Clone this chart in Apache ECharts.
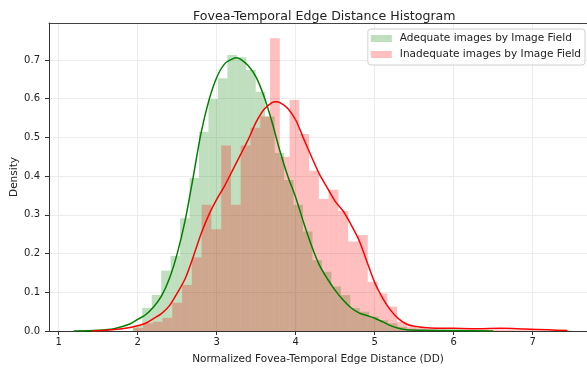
<!DOCTYPE html>
<html>
<head>
<meta charset="utf-8">
<script src="https://cdn.jsdelivr.net/npm/echarts@6/dist/echarts.min.js"></script>
<style>
  html, body { margin: 0; padding: 0; background: #fff; }
  #chart { width: 587px; height: 369px; }
</style>
</head>
<body>
<div id="chart"></div>
<script>
// Histogram bins: left edge of the first bin and bin width (DD), then density per bin
const adequateBinStart = 1.938
const adequateBinWidth = 0.1197
const adequateDensity = [
  0.015, 0.06, 0.093, 0.156, 0.194, 0.291, 0.395, 0.515, 0.599, 0.653,
  0.713, 0.707, 0.674, 0.618, 0.554, 0.46, 0.39, 0.326, 0.257, 0.183,
  0.153, 0.115, 0.093, 0.059, 0.05, 0.037, 0.028, 0.02, 0.011, 0.006,
  0.004, 0.002, 0.002, 0.001, 0.001, 0.001, 0, 0.001
]

const inadequateBinStart = 1.943
const inadequateBinWidth = 0.1237
const inadequateDensity = [
  0.008, 0.02, 0.024, 0.034, 0.073, 0.119, 0.19, 0.326, 0.263, 0.479,
  0.326, 0.479, 0.525, 0.554, 0.756, 0.45, 0.597, 0.509, 0.414, 0.341,
  0.365, 0.31, 0.231, 0.248, 0.127, 0.097, 0.063, 0.024, 0.011, 0.008,
  0.005, 0.004, 0.003, 0.002, 0.003, 0.002, 0.003, 0.004, 0.003, 0.002,
  0.002, 0.001, 0.001, 0.001, 0.001
]

// KDE curves
const adequateKdeX = [1.19, 1.5, 1.7, 1.9, 2.0, 2.1, 2.2, 2.3, 2.4, 2.5, 2.6, 2.7, 2.8, 2.9, 3.0, 3.1, 3.2, 3.25, 3.3, 3.4, 3.5, 3.6, 3.7, 3.8, 3.9, 4.0, 4.1, 4.2, 4.3, 4.4, 4.5, 4.6, 4.7, 4.8, 4.9, 5.0, 5.1, 5.2, 5.3, 5.4, 5.6, 6.0, 6.5]
const adequateKdeY = [0.0, 0.002, 0.006, 0.018, 0.03, 0.042, 0.062, 0.09, 0.135, 0.2, 0.285, 0.395, 0.51, 0.595, 0.655, 0.69, 0.703, 0.706, 0.702, 0.685, 0.655, 0.605, 0.54, 0.465, 0.4, 0.345, 0.28, 0.22, 0.17, 0.135, 0.105, 0.08, 0.06, 0.047, 0.04, 0.033, 0.024, 0.014, 0.007, 0.003, 0.002, 0.001, 0.0]

const inadequateKdeX = [1.42, 1.6, 1.8, 1.95, 2.1, 2.2, 2.3, 2.4, 2.5, 2.6, 2.7, 2.8, 2.9, 3.0, 3.1, 3.2, 3.3, 3.4, 3.5, 3.6, 3.7, 3.75, 3.8, 3.9, 4.0, 4.1, 4.2, 4.3, 4.4, 4.5, 4.6, 4.7, 4.8, 4.9, 5.0, 5.1, 5.2, 5.3, 5.4, 5.5, 5.7, 6.0, 6.3, 6.6, 6.9, 7.2, 7.44]
const inadequateKdeY = [0.0, 0.002, 0.006, 0.011, 0.02, 0.032, 0.045, 0.065, 0.098, 0.135, 0.19, 0.25, 0.3, 0.34, 0.375, 0.415, 0.455, 0.495, 0.54, 0.573, 0.59, 0.592, 0.59, 0.575, 0.545, 0.497, 0.45, 0.405, 0.37, 0.335, 0.31, 0.275, 0.235, 0.18, 0.125, 0.085, 0.054, 0.032, 0.018, 0.012, 0.008, 0.007, 0.006, 0.007, 0.005, 0.003, 0.001]

const xTicks = [1, 2, 3, 4, 5, 6, 7]
const yTicks = [0, 0.1, 0.2, 0.3, 0.4, 0.5, 0.6, 0.7]

const ADEQUATE = "Adequate images by Image Field"
const INADEQUATE = "Inadequate images by Image Field"
const FONT = "DejaVu Sans"

// [left edge, right edge, density] for each bin
function toBins(start, width, heights) {
  return heights.map((h, i) => [start + i * width, start + (i + 1) * width, h])
}

function zip(xs, ys) {
  return xs.map((x, i) => [x, ys[i]])
}

function renderBin(params, api) {
  const topLeft = api.coord([api.value(0), api.value(2)])
  const bottomRight = api.coord([api.value(1), 0])
  return {
    type: "rect",
    shape: {
      x: topLeft[0],
      y: topLeft[1],
      width: bottomRight[0] - topLeft[0],
      height: bottomRight[1] - topLeft[1],
    },
    style: { fill: api.visual("color") },
  }
}

const chart = echarts.init(document.getElementById("chart"))

chart.setOption({
  animation: false,
  textStyle: { fontFamily: FONT },
  title: {
    text: "Fovea-Temporal Edge Distance Histogram",
    left: 188,
    top: 5,
    textStyle: { fontFamily: FONT, fontSize: 12.6, fontWeight: "normal", color: "#222" },
  },
  legend: {
    data: [ADEQUATE, INADEQUATE],
    orient: "vertical",
    right: 2,
    top: 29,
    icon: "rect",
    itemWidth: 21,
    itemHeight: 7,
    itemGap: 3,
    padding: [3, 4, 4, 3],
    backgroundColor: "rgba(255,255,255,0.8)",
    borderColor: "#d0d0d0",
    borderWidth: 1,
    borderRadius: 3,
    textStyle: { fontFamily: FONT, fontSize: 10.5, color: "#222", lineHeight: 13, padding: [0, 0, 0, 3] },
  },
  grid: { left: 49, right: 0, top: 23, bottom: 38, containLabel: false, outerBoundsMode: "none" },
  xAxis: [
    {
      type: "value",
      min: 0.877,
      max: 7.687,
      name: "Normalized Fovea-Temporal Edge Distance (DD)",
      nameLocation: "middle",
      nameGap: 23,
      nameTextStyle: { fontFamily: FONT, fontSize: 10.5, color: "#222" },
      axisLine: { show: true, lineStyle: { color: "#333", width: 1 } },
      axisTick: { show: true, customValues: xTicks, length: 4, lineStyle: { color: "#333" } },
      axisLabel: {
        customValues: xTicks,
        margin: 6,
        fontSize: 10,
        color: "#222",
        fontFamily: FONT,
      },
      splitLine: { show: true, lineStyle: { color: "#ececec", width: 1 } },
    },
    {
      // top spine only
      type: "value",
      position: "top",
      min: 0.877,
      max: 7.687,
      axisLine: { show: true, onZero: false, lineStyle: { color: "#444", width: 1 } },
      axisTick: { show: false },
      axisLabel: { show: false },
      splitLine: { show: false },
    },
  ],
  yAxis: {
    type: "value",
    min: 0,
    max: 0.7956,
    name: "Density",
    nameLocation: "middle",
    nameGap: 29,
    nameMoveOverlap: false,
    nameTextStyle: { fontFamily: FONT, fontSize: 10.5, color: "#222" },
    axisLine: { show: true, lineStyle: { color: "#333", width: 1 } },
    axisTick: { show: true, customValues: yTicks, length: 4, lineStyle: { color: "#333" } },
    axisLabel: {
      customValues: yTicks,
      margin: 9,
      fontSize: 10,
      color: "#222",
      fontFamily: FONT,
      formatter: (v) => v.toFixed(1),
    },
    splitLine: { show: true, lineStyle: { color: "#ececec", width: 1 } },
  },
  series: [
    {
      name: ADEQUATE,
      type: "custom",
      renderItem: renderBin,
      clip: true,
      itemStyle: { color: "rgba(0,128,0,0.25)" },
      encode: { x: [0, 1], y: 2 },
      data: toBins(adequateBinStart, adequateBinWidth, adequateDensity),
      z: 2,
    },
    {
      name: INADEQUATE,
      type: "custom",
      renderItem: renderBin,
      clip: true,
      itemStyle: { color: "rgba(255,0,0,0.25)" },
      encode: { x: [0, 1], y: 2 },
      data: toBins(inadequateBinStart, inadequateBinWidth, inadequateDensity),
      z: 3,
    },
    {
      name: "adequate kde",
      type: "line",
      data: zip(adequateKdeX, adequateKdeY),
      smooth: 0.3,
      showSymbol: false,
      lineStyle: { color: "#008000", width: 1.5 },
      itemStyle: { color: "#008000" },
      z: 4,
    },
    {
      name: "inadequate kde",
      type: "line",
      data: zip(inadequateKdeX, inadequateKdeY),
      smooth: 0.3,
      showSymbol: false,
      lineStyle: { color: "#ff0000", width: 1.5 },
      itemStyle: { color: "#ff0000" },
      z: 5,
    },
  ],
})
</script>
</body>
</html>
